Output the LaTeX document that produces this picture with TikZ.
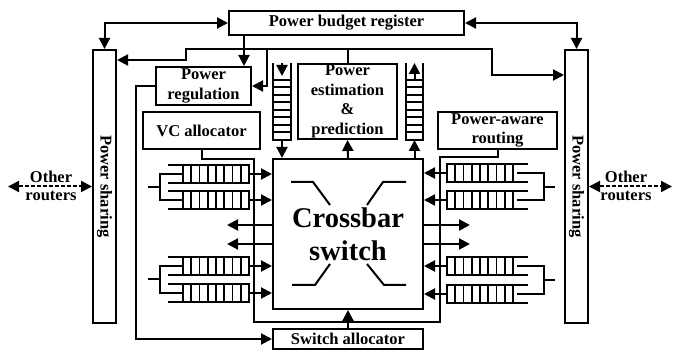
\documentclass[tikz,border=0pt]{standalone}
\usepackage{fontspec}
\setmainfont{Liberation Serif}
\usepackage{graphicx}
\usetikzlibrary{arrows.meta}
\tikzset{
  lbuf/.pic={
    \draw[line width=1.7pt] (-81,-9) -- (0,-9) -- (0,9) -- (-81,9);
    \foreach \i in {0,...,7} \draw[line width=1.7pt] ({-66+\i*8.25},-9) -- ({-66+\i*8.25},9);
  },
  box/.style={draw, rectangle, inner sep=0pt, align=center, font=\fontsize{16.5}{19.5}\selectfont\bfseries},
  lbl/.style={inner sep=0pt, align=center, font=\fontsize{16.5}{18.5}\selectfont\bfseries},
  dashedarrow/.style={<->, dash pattern=on 4pt off 2pt},
}
\begin{document}
\begin{tikzpicture}[x=1pt,y=-1pt, line width=2pt, >={Triangle[length=11pt,width=11pt]}]
\useasboundingbox (0,0) rectangle (681,350);

% boxes
\node[box, minimum width=235pt, minimum height=24pt] (pbr) at (346.5,23) {Power budget register};
\node[box, minimum width=23pt, minimum height=273pt] (psl) at (104.5,186.5) {\rotatebox{-90}{Power sharing}};
\node[box, minimum width=23pt, minimum height=273pt] (psr) at (576.5,186.5) {\rotatebox{-90}{Power sharing}};
\node[box, minimum width=95pt, minimum height=38pt] (pr) at (203.5,86) {Power\\regulation};
\node[box, minimum width=117pt, minimum height=37pt] (vc) at (201.5,130.5) {VC allocator};
\node[box, minimum width=99pt, minimum height=75pt] (pe) at (347.5,101.5) {Power\\estimation\\\&\\prediction};
\node[box, minimum width=119pt, minimum height=37pt, font=\fontsize{16.5}{18.5}\selectfont\bfseries] (par) at (497.5,130.5) {Power-aware\\routing};
\node[box, minimum width=150pt, minimum height=150pt, font=\fontsize{28.5}{33}\selectfont\bfseries] (cb) at (348,234) {Crossbar\\switch};
\node[box, minimum width=150pt, minimum height=20pt] (sa) at (348,339) {Switch allocator};
\node[lbl] (orl) at (51,186) {Other\\routers};
\node[lbl] (orr) at (626,186) {Other\\routers};

% other routers
\draw[dashedarrow] (8,186.5) -- (psl.west);
\draw[dashedarrow] (psr.east) -- (672,186.5);

% power budget register links
\draw[<->] (pbr.west) -| (psl.north);
\draw[<->] (pbr.east) -| (psr.north);
\draw[->] (pbr.south -| 244,0) -- (pr.north -| 244,0);

% power estimation outputs
\coordinate (pej) at (pe.north |- 0,49);
\draw (pe.north) -- (pej);
\draw[->] (pej) -| (186,60) -- (psl.east |- 0,60);
\draw[->] (pej) -| (492,75) -- (psr.west |- 0,75);
\draw[->] (267,49) |- (pr.east);

% power regulation to switch allocator
\draw[->] (pr.west) -| (136,339) -- (sa.west);

% VC allocator / power-aware routing line
\draw (vc.south -| 202,0) -- (202,159) -- (254,159) -- (254,322) -- (440,322) -- (440,157) -- (par.south |- 0,157) -- (par.south);

% switch allocator & power estimation arrows
\draw[->] (sa.north) -- (cb.south);
\draw[->] (cb.north) -- (pe.south);

% ladders
\draw (273,63) -- (273,140) -- (291,140) -- (291,63);
\foreach \y in {80,87.5,...,133} \draw (273,\y) -- (291,\y);
\draw[->] (282,63) -- (282,76);
\draw[->] (282,140) -- (cb.north -| 282,0);
\draw (406,63) -- (406,140) -- (423,140) -- (423,63);
\foreach \y in {80,87.5,...,133} \draw (406,\y) -- (423,\y);
\draw[->] (414.5,80) -- (414.5,63);
\draw[->] (cb.north -| 414.5,0) -- (414.5,140);

% crossbar X
\draw (291,182) -- (313,182) -- (330,205);
\draw (406,182) -- (383,182) -- (367,205);
\draw (292,285) -- (315,285) -- (330,264);
\draw (406,285) -- (384,285) -- (367,264);

% left input buffers
\foreach \m in {174,200,266,293} {
  \pic at (249,\m) {lbuf};
  \draw[->] (249,\m) -- (cb.west |- 0,\m);
}
\draw (183,174) -- (160,174) -- (160,200) -- (183,200);
\draw (148,187) -- (160,187);
\draw (183,266) -- (160,266) -- (160,293) -- (183,293);
\draw (148,279.5) -- (160,279.5);

% right input buffers
\foreach \m in {173,200,266,294} {
  \pic[xscale=-1] at (447,\m) {lbuf};
  \draw[->] (447,\m) -- (cb.east |- 0,\m);
}
\draw (517,173) -- (544,173) -- (544,200) -- (517,200);
\draw (544,187) -- (555,187);
\draw (517,266) -- (544,266) -- (544,294) -- (517,294);
\draw (544,280) -- (555,280);

% outputs
\draw[->] (cb.west |- 0,225) -- (227,225);
\draw[->] (cb.west |- 0,244) -- (227,244);
\draw[->] (cb.east |- 0,225) -- (470,225);
\draw[->] (cb.east |- 0,244) -- (470,244);
\end{tikzpicture}
\end{document}
